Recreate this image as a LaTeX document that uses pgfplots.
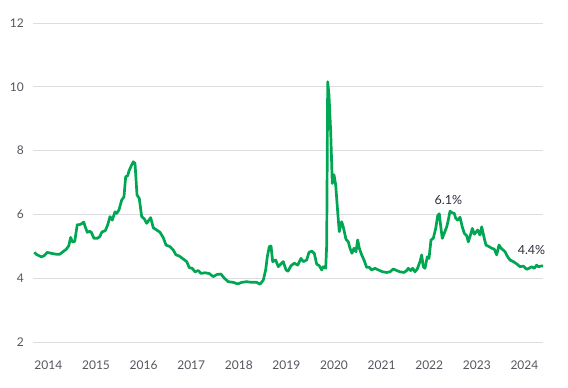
\documentclass[border=0pt]{standalone}
\usepackage{pgfplots}
\pgfplotsset{compat=1.18}
\usepackage{pgfplotstable}
\usepackage{fontspec}
\setmainfont{Lato}
\definecolor{linegreen}{HTML}{00A651}
\definecolor{gridgray}{HTML}{DCDCE2}
\definecolor{ticktext}{HTML}{55555F}
\definecolor{annot}{HTML}{2E2E3A}
\pgfplotstableread{
x y
2014.000 4.81
2014.042 4.75
2014.147 4.67
2014.204 4.70
2014.273 4.81
2014.357 4.78
2014.462 4.75
2014.534 4.75
2014.603 4.83
2014.672 4.91
2014.723 5.01
2014.765 5.28
2014.798 5.14
2014.849 5.15
2014.903 5.68
2014.954 5.68
2014.987 5.70
2015.038 5.76
2015.071 5.61
2015.113 5.44
2015.164 5.47
2015.197 5.44
2015.254 5.25
2015.324 5.25
2015.374 5.30
2015.422 5.45
2015.492 5.49
2015.542 5.67
2015.590 5.93
2015.639 5.82
2015.695 6.08
2015.731 6.03
2015.779 6.14
2015.836 6.45
2015.884 6.55
2015.920 7.18
2015.962 7.21
2015.989 7.36
2016.031 7.50
2016.080 7.65
2016.116 7.60
2016.158 6.61
2016.206 6.50
2016.256 5.93
2016.311 5.86
2016.361 5.72
2016.395 5.79
2016.445 5.90
2016.500 5.58
2016.571 5.51
2016.641 5.44
2016.710 5.27
2016.767 5.04
2016.851 4.99
2016.920 4.88
2016.977 4.73
2017.040 4.70
2017.130 4.60
2017.202 4.52
2017.256 4.33
2017.319 4.31
2017.376 4.20
2017.445 4.24
2017.502 4.15
2017.586 4.17
2017.670 4.15
2017.760 4.05
2017.844 4.12
2017.922 4.13
2017.992 4.00
2018.076 3.89
2018.181 3.87
2018.273 3.82
2018.357 3.87
2018.462 3.89
2018.567 3.87
2018.672 3.87
2018.742 3.81
2018.811 3.94
2018.861 4.26
2018.895 4.67
2018.937 4.99
2018.973 5.01
2019.008 4.52
2019.071 4.57
2019.126 4.36
2019.183 4.45
2019.231 4.52
2019.288 4.26
2019.330 4.22
2019.393 4.39
2019.462 4.47
2019.534 4.41
2019.603 4.62
2019.651 4.52
2019.723 4.57
2019.771 4.81
2019.828 4.85
2019.882 4.78
2019.933 4.44
2019.987 4.39
2020.038 4.26
2020.071 4.36
2020.122 4.31
2020.143 5.04
2020.164 10.16
2020.191 9.74
2020.227 8.59
2020.260 6.97
2020.296 7.24
2020.332 6.92
2020.374 6.08
2020.407 5.46
2020.458 5.77
2020.491 5.61
2020.548 5.22
2020.597 5.14
2020.632 4.94
2020.674 4.78
2020.716 4.94
2020.758 4.83
2020.794 5.20
2020.828 4.94
2020.878 4.73
2020.926 4.57
2020.983 4.34
2021.038 4.34
2021.088 4.26
2021.157 4.31
2021.227 4.26
2021.319 4.20
2021.403 4.18
2021.473 4.20
2021.542 4.29
2021.613 4.24
2021.683 4.20
2021.767 4.18
2021.823 4.24
2021.857 4.31
2021.907 4.24
2021.950 4.31
2021.998 4.20
2022.046 4.29
2022.103 4.52
2022.138 4.73
2022.172 4.36
2022.208 4.31
2022.256 4.67
2022.292 4.62
2022.334 5.20
2022.382 5.25
2022.433 5.56
2022.475 5.96
2022.508 6.02
2022.544 5.56
2022.571 5.25
2022.613 5.41
2022.664 5.61
2022.697 5.82
2022.733 6.10
2022.781 6.05
2022.823 6.03
2022.853 5.88
2022.895 5.82
2022.943 5.91
2022.991 5.61
2023.033 5.41
2023.084 5.33
2023.118 5.14
2023.153 5.30
2023.202 5.56
2023.244 5.38
2023.315 5.51
2023.363 5.35
2023.399 5.61
2023.453 5.25
2023.489 5.04
2023.552 4.99
2023.609 4.94
2023.664 4.91
2023.714 4.73
2023.763 5.04
2023.805 4.94
2023.853 4.88
2023.889 4.83
2023.945 4.67
2023.994 4.57
2024.063 4.52
2024.134 4.45
2024.204 4.36
2024.273 4.38
2024.344 4.28
2024.393 4.31
2024.449 4.36
2024.504 4.31
2024.554 4.41
2024.588 4.36
2024.645 4.38
2024.687 4.38
}\datatable
\begin{document}
\begin{tikzpicture}
\useasboundingbox (0,0) rectangle (568pt,388pt);
\begin{axis}[
  at={(33pt,46pt)}, anchor=south west,
  scale only axis, width=510pt, height=319pt,
  xmin=2013.973, xmax=2024.687,
  ymin=2, ymax=12,
  ytick={2,4,6,8,10,12},
  xtick={2014,2015,2016,2017,2018,2019,2020,2021,2022,2023,2024},
  xticklabels={2014,2015,2016,2017,2018,2019,2020,2021,2022,2023,2024},
  axis line style={draw=none},
  major tick length=0pt,
  ymajorgrids, grid style={gridgray, line width=0.9pt},
  tick label style={font=\fontsize{12}{14}\selectfont, text=ticktext},
  xticklabel style={anchor=north west, inner sep=0pt, yshift=-19pt},
  yticklabel style={anchor=east, inner sep=0pt, xshift=-9pt},
  /pgf/number format/assume math mode=true,
  clip=false,
]
\addplot[linegreen, line width=2.7pt, line join=round] table[x=x, y=y] {\datatable};
\node[font=\fontsize{12.5}{14}\selectfont, text=annot] at (axis cs:2022.70,6.45) {6.1\%};
\node[font=\fontsize{12.5}{14}\selectfont, text=annot] at (axis cs:2024.445,4.88) {4.4\%};
\end{axis}
\end{tikzpicture}
\end{document}
